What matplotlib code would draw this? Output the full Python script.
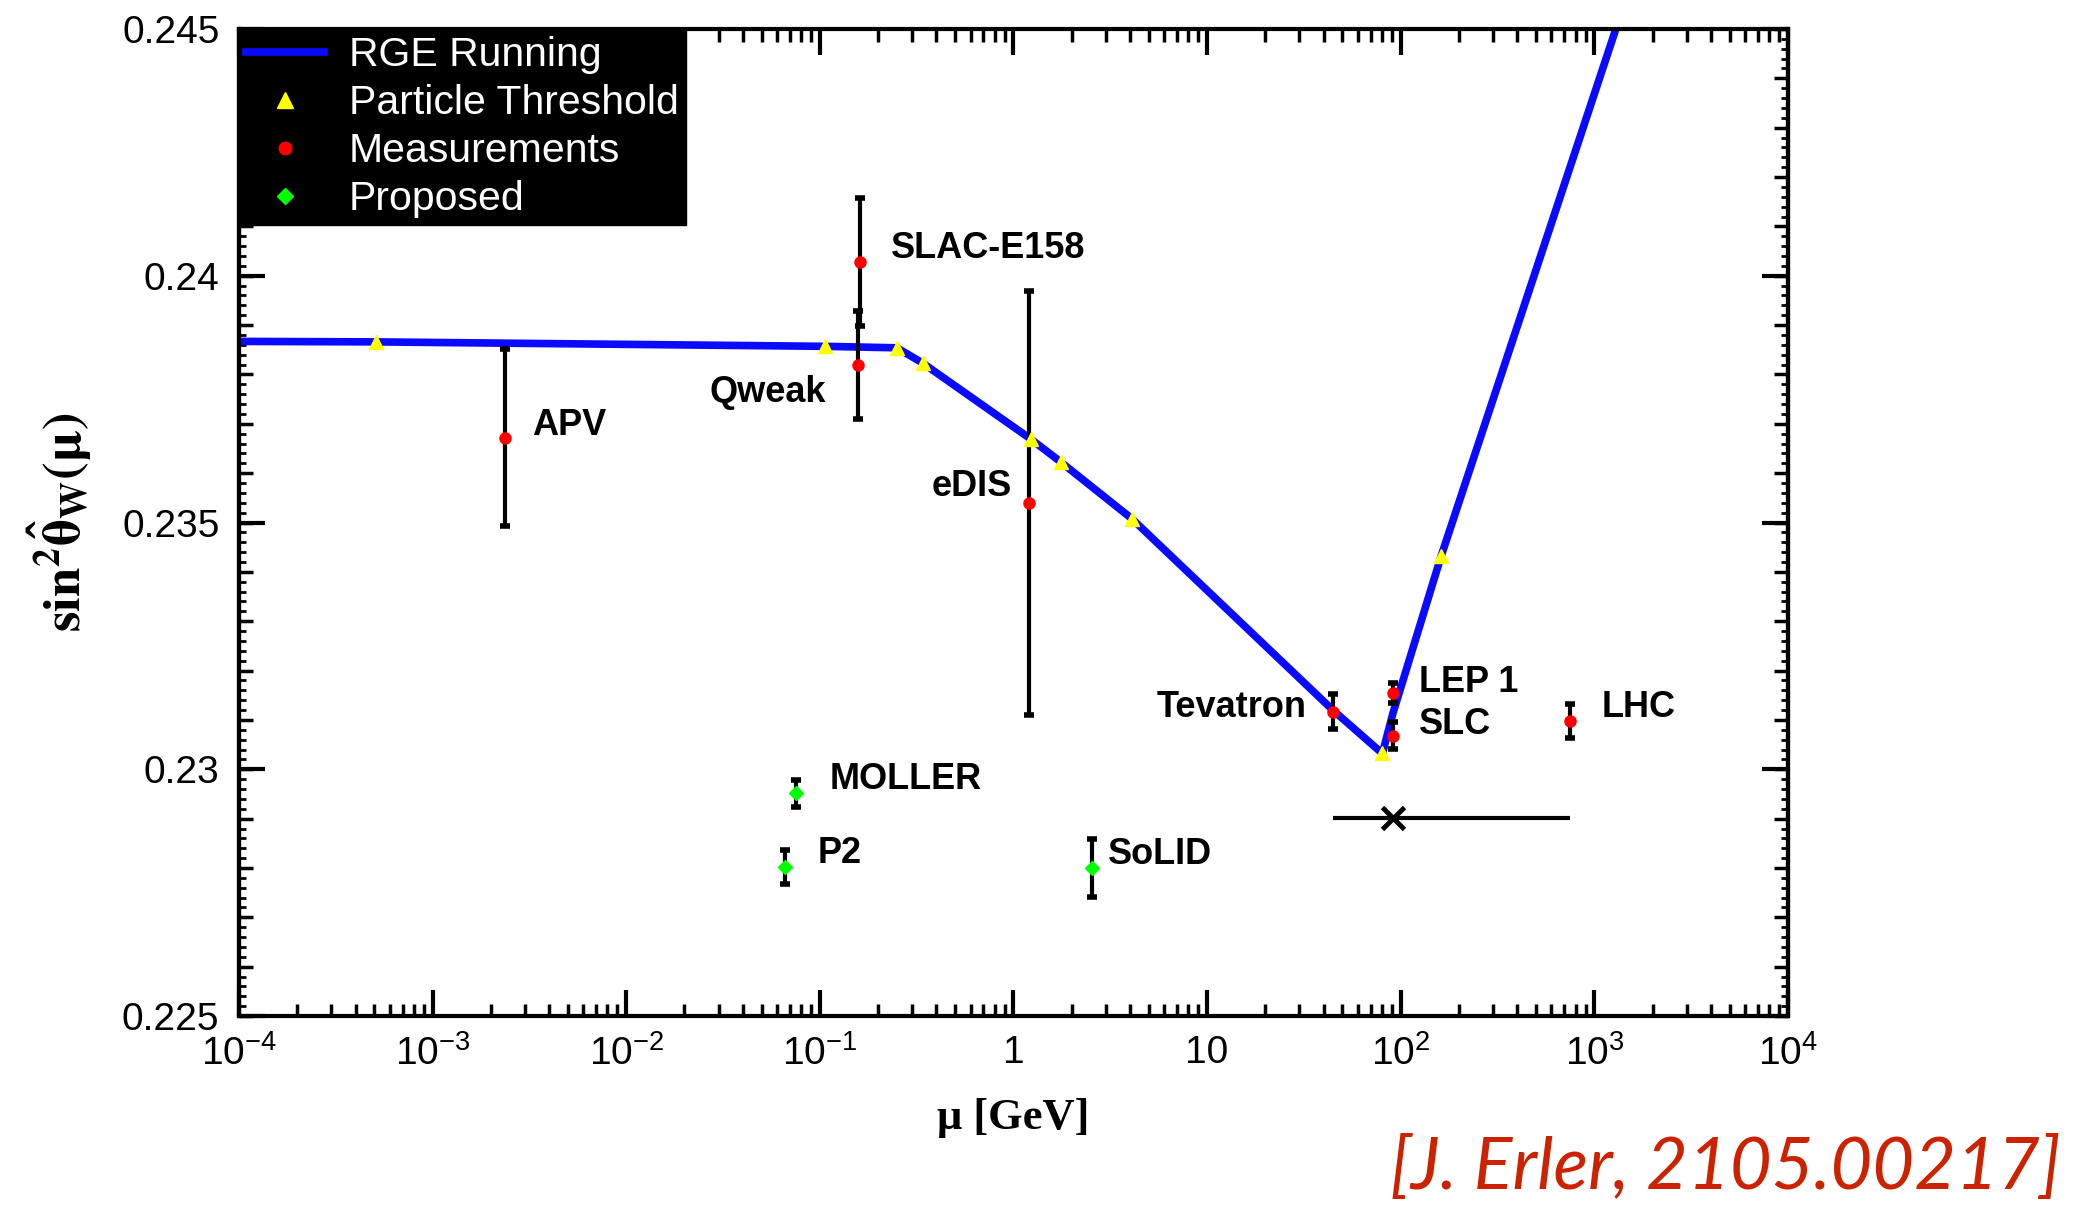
import numpy as np
import matplotlib.pyplot as plt
from matplotlib.lines import Line2D
from matplotlib.ticker import (FixedLocator, MultipleLocator, FuncFormatter,
                               LogLocator, NullFormatter, NullLocator)

plt.rcParams['font.family'] = ['Liberation Sans', 'DejaVu Sans']
plt.rcParams['mathtext.fontset'] = 'custom'
plt.rcParams['mathtext.rm'] = 'Liberation Sans'
plt.rcParams['mathtext.it'] = 'Liberation Sans:italic'
plt.rcParams['mathtext.bf'] = 'Liberation Sans:bold'
plt.rcParams['axes.unicode_minus'] = False

# RGE running of sin^2 theta_W (mu in GeV)
rge_mu = [1e-4, 5.1e-4, 0.106, 0.25, 0.34, 1.23, 1.75, 4.08, 44.6, 80.4, 91.2, 162, 2000]
rge_val = [0.23867, 0.23866, 0.23857, 0.23854, 0.23823, 0.23669, 0.23623,
           0.23508, 0.23120, 0.23032, 0.23114, 0.23433, 0.24725]

# particle thresholds
thr_mu = [5.1e-4, 0.106, 0.25, 0.34, 1.23, 1.75, 4.08, 80.4, 162]
thr_val = [0.23866, 0.23857, 0.23854, 0.23823, 0.23669, 0.23623, 0.23508, 0.23032, 0.23433]

# measurements
meas_names = ['APV', 'Qweak', 'SLAC-E158', 'eDIS', 'Tevatron', 'LEP 1', 'SLC', 'LHC']
meas_mu = [2.36e-3, 0.158, 0.161, 1.2, 44.6, 91.2, 91.2, 745]
meas_val = [0.23672, 0.23819, 0.24028, 0.23540, 0.23117, 0.23154, 0.23068, 0.23098]
meas_err = [0.0018, 0.0011, 0.0013, 0.0043, 0.00035, 0.0002, 0.00027, 0.00035]

# proposed experiments
prop_names = ['MOLLER', 'P2', 'SoLID']
prop_mu = [0.0752, 0.0664, 2.55]
prop_val = [0.22951, 0.22802, 0.22800]
prop_err = [0.00028, 0.00034, 0.00058]

# horizontal range marker
range_mu = 91.2
range_lo = 44.6
range_hi = 745
range_val = 0.22901

# label offsets in points (dx, dy, ha)
label_off = {'APV': (20, 9, 'left'), 'Qweak': (-23, -20, 'right'),
             'SLAC-E158': (22, 10, 'left'), 'eDIS': (-12, 12, 'right'),
             'Tevatron': (-19, 3, 'right'), 'LEP 1': (19, 8, 'left'),
             'SLC': (19, 8, 'left'), 'LHC': (23, 10, 'left'),
             'MOLLER': (24, 10, 'left'), 'P2': (23, 10, 'left'),
             'SoLID': (11, 10, 'left')}

fig = plt.figure(figsize=(20.74, 12.08), dpi=100)
ax = fig.add_axes([0.1152, 0.1589, 0.7469, 0.8171])

ax.plot(rge_mu, rge_val, color='#0a0aff', lw=5.5, zorder=2, solid_joinstyle='miter')
ax.plot(thr_mu, thr_val, ls='none', marker='^', ms=10, color='#ffff00', zorder=4)

ax.errorbar(meas_mu, meas_val, yerr=meas_err, fmt='none', ecolor='black',
            elinewidth=3, capsize=3.5, capthick=4, zorder=3)
ax.plot(meas_mu, meas_val, ls='none', marker='o', ms=8, color='#ff0000', zorder=5)

ax.errorbar(prop_mu, prop_val, yerr=prop_err, fmt='none', ecolor='black',
            elinewidth=3, capsize=3.5, capthick=4, zorder=3)
ax.plot(prop_mu, prop_val, ls='none', marker='D', ms=7, color='#00ff00', zorder=5)

ax.errorbar([range_mu], [range_val], xerr=[[range_mu - range_lo], [range_hi - range_mu]],
            fmt='x', color='black', ms=16, mew=3.5, elinewidth=3, zorder=3)

for name, x, y in zip(meas_names + prop_names, meas_mu + prop_mu, meas_val + prop_val):
    dx, dy, ha = label_off[name]
    ax.annotate(name, (x, y), xytext=(dx, dy), textcoords='offset points',
                ha=ha, va='center', fontsize=26, fontweight='bold')

ax.set_xscale('log')
ax.set_xlim(1e-4, 1e4)
ax.set_ylim(0.225, 0.245)

def xfmt(v, pos):
    e = int(round(np.log10(v)))
    if e == 0:
        return '1'
    if e == 1:
        return '10'
    return r'$\mathregular{10^{%d}}$' % e

ax.xaxis.set_major_locator(LogLocator(base=10, numticks=20))
ax.xaxis.set_minor_locator(LogLocator(base=10, subs=np.arange(2, 10), numticks=100))
ax.xaxis.set_major_formatter(FuncFormatter(xfmt))
ax.xaxis.set_minor_formatter(NullFormatter())
ax.yaxis.set_major_locator(MultipleLocator(0.005))
ax.yaxis.set_minor_locator(MultipleLocator(0.0002))
ax.yaxis.set_major_formatter(FuncFormatter(lambda v, p: '%g' % round(v, 4)))

ax.tick_params(which='both', direction='in', top=True, right=True, labelsize=28)
ax.tick_params(which='major', length=19, width=3)
ax.tick_params(axis='y', which='minor', length=5, width=2)
ax.tick_params(axis='x', which='minor', length=9, width=2.5)
ax.tick_params(axis='x', which='major', pad=14)
ax.tick_params(axis='y', which='major', pad=14)
for s in ax.spines.values():
    s.set_linewidth(3)

# medium ticks every 0.001 on both vertical sides
for side in ['left', 'right']:
    sec = ax.secondary_yaxis(side)
    sec.yaxis.set_major_locator(FixedLocator(np.arange(0.225, 0.2451, 0.001)))
    sec.yaxis.set_minor_locator(NullLocator())
    sec.tick_params(direction='in', length=10, width=2.5, labelleft=False, labelright=False)
    sec.spines[side].set_linewidth(3)

ax.set_xlabel('μ [GeV]', family='Liberation Serif', fontweight='bold', fontsize=32, labelpad=18)
ax.set_ylabel(r'$\mathbf{sin^2\hat{\theta}_W(\mu)}$', fontsize=38,
              math_fontfamily='stix', labelpad=20)

handles = [Line2D([], [], color='#0a0aff', lw=5.5),
           Line2D([], [], ls='none', marker='^', ms=11, color='#ffff00'),
           Line2D([], [], ls='none', marker='o', ms=9, color='#ff0000'),
           Line2D([], [], ls='none', marker='D', ms=8, color='#00ff00')]
leg = ax.legend(handles, ['RGE Running', 'Particle Threshold', 'Measurements', 'Proposed'],
                loc='upper left', borderaxespad=0, fontsize=29.5, frameon=True,
                facecolor='black', edgecolor='black', framealpha=1, fancybox=False,
                labelcolor='white', labelspacing=0.24, handlelength=1.9,
                handletextpad=0.6, borderpad=0.18)
leg.set_zorder(10)

fig.text(0.9937, 0.006, '[J. Erler, 2105.00217]', ha='right', va='bottom',
         fontsize=52, style='italic', color='#cc2200', family='Lato')

fig.savefig('out.png', dpi=100)
